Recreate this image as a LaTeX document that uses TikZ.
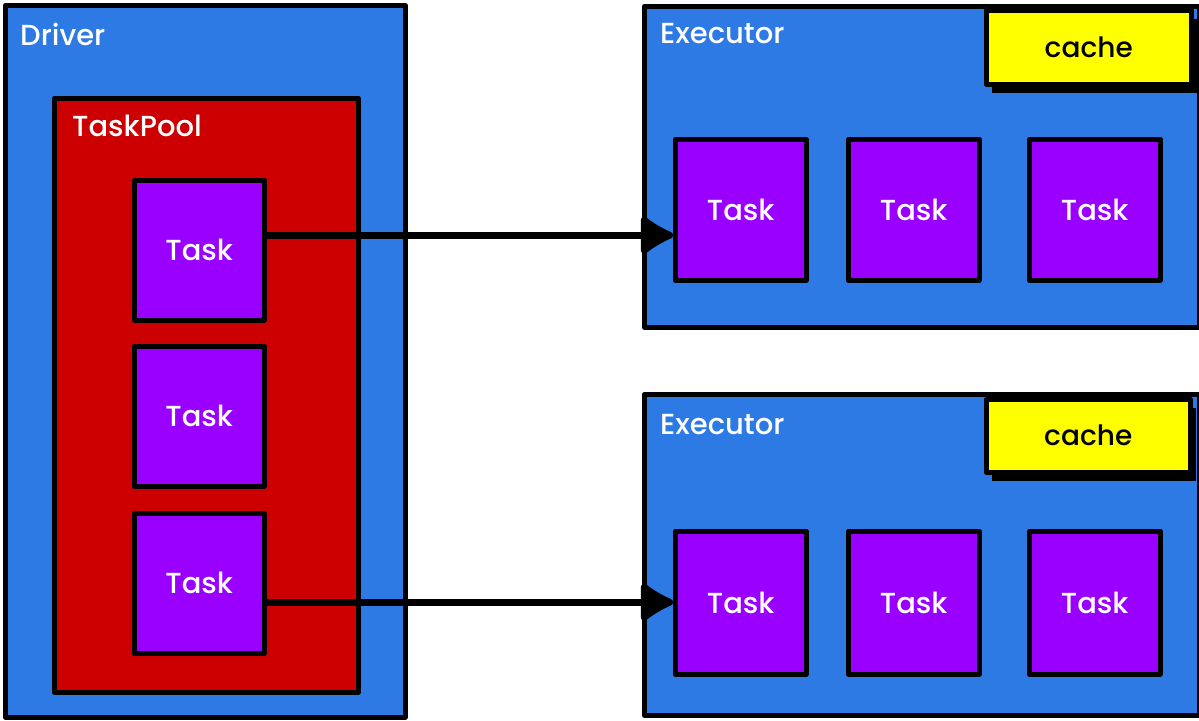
\documentclass[tikz,border=0pt]{standalone}
\usepackage{fontspec}
\setmainfont{Poppins}
\newfontfamily\medfont{Poppins Medium}
\usetikzlibrary{arrows.meta,shadows}
\definecolor{bblue}{RGB}{45,122,228}
\definecolor{pred}{RGB}{204,0,0}
\definecolor{ppurple}{RGB}{153,0,255}
\definecolor{pyellow}{RGB}{255,255,0}
\tikzset{
  box/.style={draw=black, line width=4.5pt, anchor=north west, inner sep=0pt, line join=round},
  bluebox/.style={box, fill=bblue},
  poolbox/.style={box, fill=pred},
  taskbox/.style={box, fill=ppurple, font=\medfont\fontsize{29}{32}\selectfont, text=white},
  cachebox/.style={box, fill=pyellow, font=\medfont\fontsize{28}{32}\selectfont, text=black,
     drop shadow={shadow xshift=6pt, shadow yshift=-9pt, fill=black, opacity=1}},
  lbl/.style={anchor=west, inner sep=0pt, text=white, font=\medfont\fontsize{29}{32}\selectfont},
  conn/.style={draw=black, line width=7pt, -{Latex[round,length=38pt,width=46pt]}},
}
\begin{document}
\begin{tikzpicture}[x=1pt,y=-1pt]
\useasboundingbox[fill=white] (0,0) rectangle (1199,720);
% Driver
\node[bluebox, minimum width=400pt, minimum height=712pt] (driver) at (3,3) {};
\node[lbl] (driverl) at (20,34) {Driver};
\node[poolbox, minimum width=304pt, minimum height=594pt] (pool) at (52,96) {};
\node[lbl] (pooll) at (72,126) {TaskPool};
\node[taskbox, minimum width=130pt, minimum height=140pt] (t1) at (132,178) {Task};
\node[taskbox, minimum width=130pt, minimum height=140pt] (t2) at (132,344) {Task};
\node[taskbox, minimum width=130pt, minimum height=140pt] (t3) at (132,511) {Task};
% Executor 1
\node[bluebox, minimum width=555pt, minimum height=321pt] (e1) at (642,4) {};
\node[lbl] (e1l) at (660,34) {Executor};
\node[cachebox, minimum width=205pt, minimum height=74pt] (c1) at (984,8) {cache};
\node[taskbox, minimum width=131pt, minimum height=141pt] (e1t1) at (673,137) {Task};
\node[taskbox, minimum width=131pt, minimum height=141pt] (e1t2) at (846,137) {Task};
\node[taskbox, minimum width=131pt, minimum height=141pt] (e1t3) at (1027,137) {Task};
% Executor 2
\node[bluebox, minimum width=555pt, minimum height=321pt] (e2) at (642,392) {};
\node[lbl] (e2l) at (660,425) {Executor};
\node[cachebox, minimum width=204pt, minimum height=73pt] (c2) at (984,397) {cache};
\node[taskbox, minimum width=131pt, minimum height=143pt] (e2t1) at (673,529) {Task};
\node[taskbox, minimum width=131pt, minimum height=143pt] (e2t2) at (846,529) {Task};
\node[taskbox, minimum width=131pt, minimum height=143pt] (e2t3) at (1027,529) {Task};
% connectors
\draw[conn] ([yshift=15pt]t1.east) coordinate (a1) -- (e1t1.west |- a1);
\draw[conn] ([yshift=-19pt]t3.east) coordinate (a3) -- (e2t1.west |- a3);
\end{tikzpicture}
\end{document}
